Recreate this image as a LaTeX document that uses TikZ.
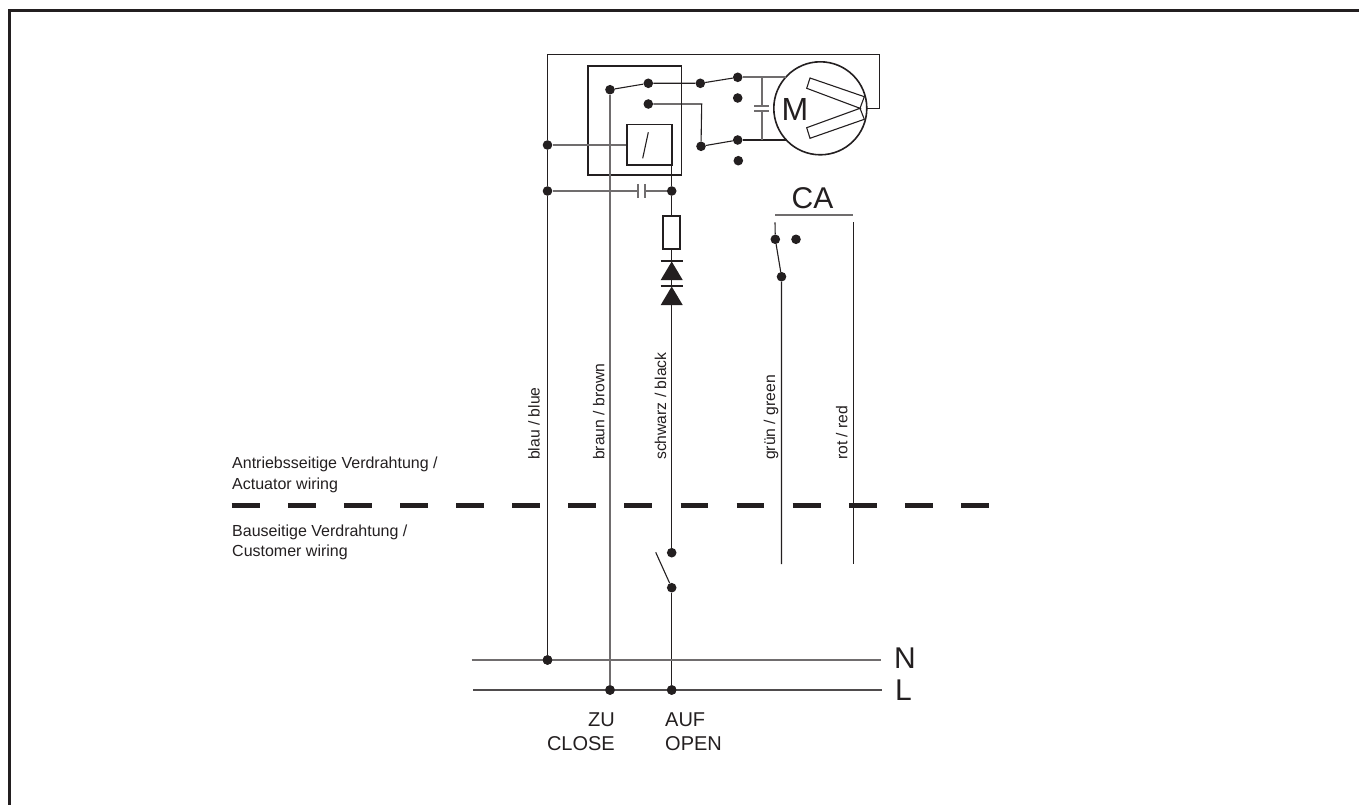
\documentclass[tikz,border=0pt]{standalone}
\usepackage{fontspec}
\setmainfont{Liberation Sans}
\definecolor{ink}{HTML}{231F20}
\tikzset{
  wire/.style={draw=ink,line width=1.1pt},
  softwire/.style={draw=ink!65,line width=1.6pt},
  boxline/.style={draw=ink,line width=1.6pt},
  jdot/.style={circle,fill=ink,draw=none,inner sep=0pt,minimum size=9.6pt},
  lab/.style={text=ink,inner sep=0pt,anchor=base west,font=\fontsize{16}{16}\selectfont},
  vlab/.style={lab,rotate=90,font=\fontsize{15.7}{16}\selectfont},
  big/.style={text=ink,inner sep=0pt,anchor=base west,font=\fontsize{20}{20}\selectfont},
  bigr/.style={big,anchor=base east},
  huge/.style={text=ink,inner sep=0pt,anchor=base,font=\fontsize{30}{30}\selectfont}
}
\begin{document}
\begin{tikzpicture}[x=1pt,y=-1pt]
\useasboundingbox (0,0) rectangle (1359,805);
% frame
\draw[ink,line width=2.7pt] (9.7,805) -- (9.7,10.7) -- (1359,10.7);

% free-end coordinates
\coordinate (tl) at (547.5,54.5);
\coordinate (tr) at (879.5,54.5);
\coordinate (mr) at (879.5,108.3);
\coordinate (mo) at (866.8,108.3);
\coordinate (bend) at (701.7,104);
\coordinate (nL) at (471.7,660);
\coordinate (nR) at (880.7,660);
\coordinate (lL) at (473,690);
\coordinate (lR) at (882,690);
\coordinate (s0) at (655.7,552.3);
\coordinate (caS) at (775,222.3);
\coordinate (caL1) at (775,215);
\coordinate (caL2) at (853.3,215);
\coordinate (rT) at (853.5,222.3);
\coordinate (rB) at (853.5,564);
\coordinate (gB) at (781.5,564);

% motor
\node[circle,draw=ink,line width=1.6pt,inner sep=0pt,minimum size=93pt] (mot) at (820.3,108.3) {};
\node[huge,anchor=center,font=\fontsize{32}{32}\selectfont] (mt) at (795,109) {M};
\draw[wire,line join=miter] (864.3,96.7) -- (810,78) -- (806.7,88.3) -- (860,108.3) -- (806.7,127.7) -- (810,138.3) -- (864.3,119.3) -- (860,108.3) -- cycle;

% relay box
\node[boxline,rectangle,inner sep=0pt,minimum width=93.6pt,minimum height=109pt] (relay) at (634.5,120.5) {};
\node[boxline,rectangle,inner sep=0pt,minimum width=44.7pt,minimum height=40.3pt] (inner) at (649.35,144.85) {};
\draw[wire] (648.3,132.3) -- (642.7,158.3);

% dots
\node[jdot] (bA) at (547.5,145) {};
\node[jdot] (bB) at (547.5,191) {};
\node[jdot] (bN) at (547.5,660) {};
\node[jdot] (c1) at (610,89.7) {};
\node[jdot] (c2) at (648.3,83.3) {};
\node[jdot] (c3) at (648.3,104) {};
\node[jdot] (d1) at (700.3,83.3) {};
\node[jdot] (d2) at (701,146.3) {};
\node[jdot] (e1) at (737.7,77.3) {};
\node[jdot] (e2) at (737.7,98) {};
\node[jdot] (e3) at (737.7,140) {};
\node[jdot] (e4) at (738.3,160.7) {};
\node[jdot] (k1) at (671.7,191) {};
\node[jdot] (s1) at (671.7,552.7) {};
\node[jdot] (s2) at (671.7,587.7) {};
\node[jdot] (lB) at (610,690) {};
\node[jdot] (lS) at (671.7,690) {};
\node[jdot] (ca1) at (775.3,239.3) {};
\node[jdot] (ca2) at (796,239.3) {};
\node[jdot] (ca3) at (781.5,276.7) {};

% outer wire
\draw[wire] (bN) -- (bB) -- (bA) -- (tl) -- (tr) -- (mr) -- (mo);

% contacts
\draw[wire] (c1) -- (c2) -- (d1) -- (e1);
\draw[wire] (c3) -- (bend) -- (d2) -- (e3);
\draw[softwire] (bA) -- (bA -| inner.west);

% capacitor to motor
\coordinate (mc1) at (786,77.3);
\coordinate (mc2) at (786.5,140);
\coordinate (pa) at (762,105.7);
\coordinate (pb) at (762,111);
\draw[softwire] (e1) -- (mc1);
\draw[wire] (e3) -- (mc2);
\draw[softwire] (762,77.3) -- (pa);
\draw[softwire] (pb) -- (762,140);
\draw[softwire] (754.3,106) -- (769.3,106);
\draw[softwire] (754.3,111) -- (769.3,111);

% horizontal capacitor
\coordinate (qa) at (638.3,191);
\coordinate (qb) at (645,191);
\draw[softwire] (bB) -- (qa);
\draw[softwire] (qb) -- (k1);
\draw[softwire] (638,184) -- (638,198.3);
\draw[softwire] (645,184) -- (645,198.3);

% brown wire
\draw[softwire] (c1) -- (lB);

% black wire
\node[boxline,rectangle,inner sep=0pt,minimum width=16.7pt,minimum height=33.3pt] (res) at (671.35,232.35) {};
\draw[wire] (671.7,165) -- (k1) -- (k1 |- res.north);
\draw[wire] (671.7,249) -- (671.7,286);
\draw[wire] (660.7,261) -- (682.7,261);
\draw[wire] (660.7,286) -- (682.7,286);
\fill[ink] (671.7,261.5) -- (682.7,280) -- (660.7,280) -- cycle;
\fill[ink] (671.7,286.5) -- (682.7,305) -- (660.7,305) -- cycle;
\draw[wire] (671.7,305) -- (s1);
\draw[wire] (s0) -- (s2);
\draw[wire] (s2) -- (lS);

% CA
\node[huge] (ca) at (812.5,208) {CA};
\draw[softwire] (caL1) -- (caL2);
\draw[wire] (caS) -- (ca1) -- (ca3) -- (gB);
\draw[wire] (rT) -- (rB);

% bus
\draw[softwire] (nL) -- (nR);
\draw[softwire,draw=ink!80] (lL) -- (lR);
\node[jdot] (bN2) at (bN) {};
\node[jdot] (lB2) at (lB) {};
\node[jdot] (lS2) at (lS) {};
\node[huge,anchor=base west] (tN) at (894,668) {N};
\node[huge,anchor=base west] (tL) at (895,700) {L};

% separator
\draw[ink,line width=5pt,dash pattern=on 27.8pt off 28.3pt] (231.7,505) -- (990,505);

% labels
\node[lab] (t1) at (232,468.3) {Antriebsseitige Verdrahtung /};
\node[lab] (t2) at (232,489) {Actuator wiring};
\node[lab] (t3) at (232,536) {Bauseitige Verdrahtung /};
\node[lab] (t4) at (232,556.5) {Customer wiring};
\node[vlab] (v1) at (539.5,460) {blau / blue};
\node[vlab] (v2) at (604.3,460) {braun / brown};
\node[vlab] (v3) at (666,460) {schwarz / black};
\node[vlab] (v4) at (775,460) {grün / green};
\node[vlab] (v5) at (847.3,460) {rot / red};
\node[bigr] (z1) at (615,726) {ZU};
\node[bigr] (z2) at (615,750) {CLOSE};
\node[big] (a1) at (665,726) {AUF};
\node[big] (a2) at (665,750) {OPEN};
\end{tikzpicture}
\end{document}
